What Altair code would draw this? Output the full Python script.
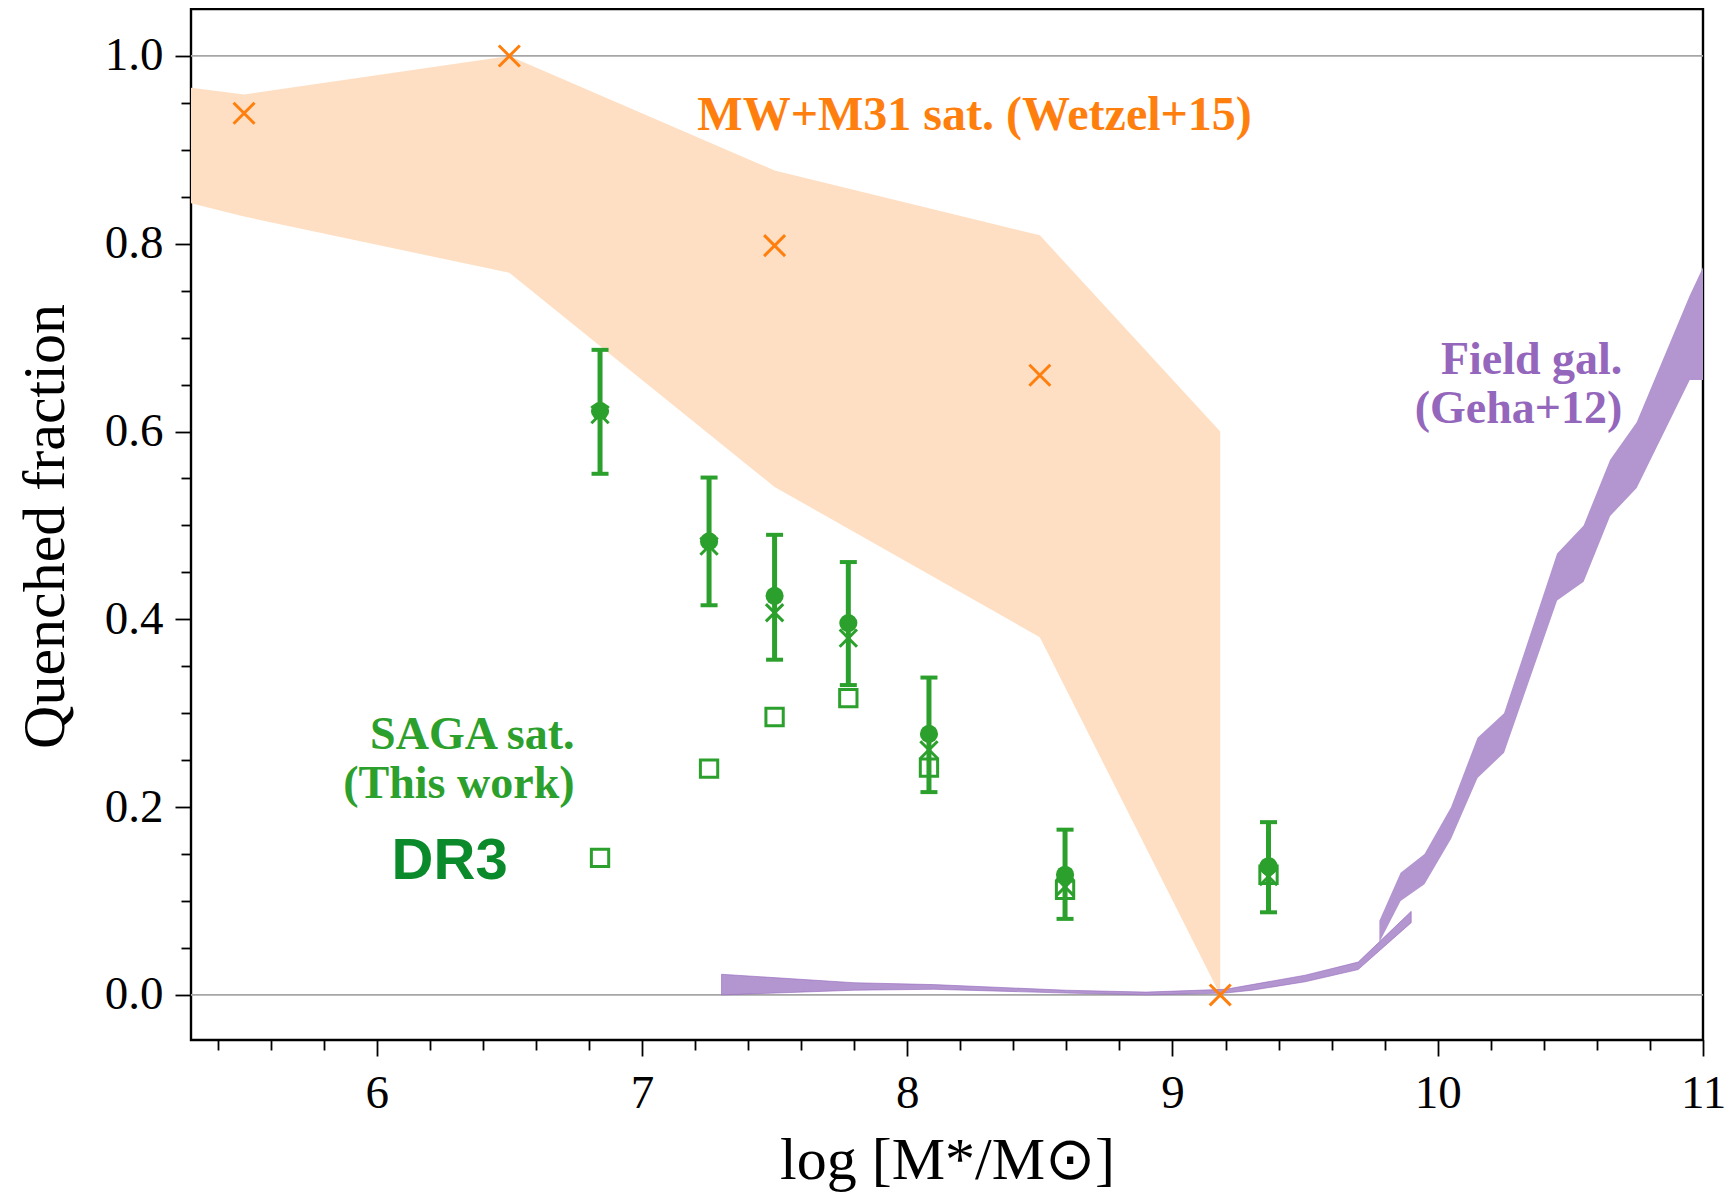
import altair as alt
import pandas as pd

# ---------------- data ----------------
# MW+M31 satellites band (Wetzel+15)
w_x = [5.3, 5.5, 6.5, 7.5, 8.5, 9.18]
w_hi = [0.966, 0.959, 1.0, 0.878, 0.809, 0.60]
w_lo = [0.843, 0.829, 0.769, 0.541, 0.381, 0.0]
# Wetzel+15 points (crosses)
wp_x = [5.5, 6.5, 7.5, 8.5, 9.18]
wp_y = [0.939, 1.0, 0.798, 0.66, 0.0]

# Field galaxies (Geha+12) - flat band
g1_x = [7.3, 7.8, 8.1, 8.6, 8.9, 9.2, 9.3, 9.5, 9.7, 9.9]
g1_hi = [0.022, 0.013, 0.011, 0.005, 0.003, 0.006, 0.011, 0.021, 0.035, 0.089]
g1_lo = [0.0, 0.005, 0.006, 0.002, 0.0, 0.002, 0.005, 0.014, 0.027, 0.077]
# Field galaxies (Geha+12) - steep band
g2_x = [9.78, 9.86, 9.95, 10.05, 10.15, 10.25, 10.45, 10.55, 10.65, 10.75, 10.95, 11.0]
g2_hi = [0.079, 0.130, 0.150, 0.200, 0.274, 0.300, 0.470, 0.500, 0.570, 0.610, 0.745, 0.775]
g2_lo = [0.056, 0.100, 0.118, 0.166, 0.231, 0.258, 0.420, 0.440, 0.510, 0.540, 0.655, 0.655]

# SAGA satellites (this work)
s_x = [6.842, 7.253, 7.50, 7.778, 8.082, 8.595, 9.362]
s_y = [0.622, 0.483, 0.425, 0.396, 0.278, 0.128, 0.137]
s_hi = [0.687, 0.551, 0.490, 0.461, 0.338, 0.176, 0.184]
s_lo = [0.555, 0.415, 0.357, 0.330, 0.216, 0.081, 0.088]
s_xm = [0.618, 0.478, 0.407, 0.380, 0.261, 0.115, 0.126]
s_sq = [0.146, 0.241, 0.296, 0.316, 0.242, 0.112, 0.128]

ref_lines = [0.0, 1.0]

x_ticks = [5.4, 5.6, 5.8, 6.0, 6.2, 6.4, 6.6, 6.8, 7.0, 7.2, 7.4, 7.6, 7.8, 8.0,
           8.2, 8.4, 8.6, 8.8, 9.0, 9.2, 9.4, 9.6, 9.8, 10.0, 10.2, 10.4, 10.6,
           10.8, 11.0]
y_ticks = [0.0, 0.05, 0.1, 0.15, 0.2, 0.25, 0.3, 0.35, 0.4, 0.45, 0.5, 0.55,
           0.6, 0.65, 0.7, 0.75, 0.8, 0.85, 0.9, 0.95, 1.0]

# annotations
lab_wetzel = ["MW+M31 sat. (Wetzel+15)"]
lab_wetzel_x = [8.254]
lab_wetzel_y = [0.936]
lab_geha = ["Field gal.", "(Geha+12)"]
lab_geha_x = [10.696, 10.696]
lab_geha_y = [0.676, 0.624]
lab_saga = ["SAGA sat.", "(This work)"]
lab_saga_x = [6.746, 6.746]
lab_saga_y = [0.277, 0.225]
lab_dr3 = ["DR3"]
lab_dr3_x = [6.275]
lab_dr3_y = [0.142]

# ---------------- colours / fonts ----------------
ORANGE = "#ff7f0e"
ORANGE_FILL = "#ffdfc3"
GREEN = "#2ca02c"
DARKGREEN = "#0a8a2a"
PURPLE = "#9467bd"
PURPLE_FILL = "#b396d0"
SERIF = "Liberation Serif"

xs = alt.Scale(domain=[5.3, 11.0], nice=False, zero=False)
ys = alt.Scale(domain=[-0.048, 1.05], nice=False, zero=False)

x_axis = alt.Axis(
    values=x_ticks,
    labelExpr="abs(datum.value - round(datum.value)) < 0.001 ? format(datum.value, 'd') : ''",
    tickSize={"condition": {"test": "abs(datum.value - round(datum.value)) < 0.001", "value": 16}, "value": 10},
    tickWidth=1.8, tickColor="black", domain=False, grid=False,
    labelFont=SERIF, labelFontSize=47, labelColor="black", labelPadding=14,
    labelOverlap=False, labelFlush=False,
    title="log [M*/M\u2299]", titleFont=SERIF, titleFontSize=60, titleFontWeight="normal",
    titleColor="black", titleX=756, titleY=120, titleBaseline="middle", titleAlign="center",
)
y_axis = alt.Axis(
    values=y_ticks,
    labelExpr="abs(datum.value*5 - round(datum.value*5)) < 0.001 ? format(datum.value, '.1f') : ''",
    tickSize={"condition": {"test": "abs(datum.value*5 - round(datum.value*5)) < 0.001", "value": 16}, "value": 10},
    tickWidth=1.8, tickColor="black", domain=False, grid=False,
    labelFont=SERIF, labelFontSize=47, labelColor="black", labelPadding=12,
    labelOverlap=False, labelFlush=False,
    title="Quenched fraction", titleFont=SERIF, titleFontSize=60, titleFontWeight="normal",
    titleColor="black", titleAngle=270, titleX=-146, titleY=517, titleBaseline="middle",
    titleAlign="center",
)


def X(f):
    return alt.X(f, type="quantitative", scale=xs, axis=x_axis)


def Y(f):
    return alt.Y(f, type="quantitative", scale=ys, axis=y_axis)


df_w = pd.DataFrame({"x": w_x, "hi": w_hi, "lo": w_lo})
df_wp = pd.DataFrame({"x": wp_x, "y": wp_y})
df_g1 = pd.DataFrame({"x": g1_x, "hi": g1_hi, "lo": g1_lo})
df_g2 = pd.DataFrame({"x": g2_x, "hi": g2_hi, "lo": g2_lo})
df_s = pd.DataFrame({"x": s_x, "y": s_y, "hi": s_hi, "lo": s_lo, "xm": s_xm, "sq": s_sq})
df_ref = pd.DataFrame({"y": ref_lines})

band_w = alt.Chart(df_w).mark_area(color=ORANGE_FILL, opacity=1).encode(
    x=X("x"), y=Y("hi"), y2="lo")

refs = alt.Chart(df_ref).mark_rule(color="#a6a6a6", strokeWidth=1.8).encode(y=Y("y"))

band_g1 = alt.Chart(df_g1).mark_area(color=PURPLE_FILL, opacity=1, stroke=PURPLE,
                                     strokeWidth=1, strokeOpacity=0.6).encode(
    x=X("x"), y=Y("hi"), y2="lo")
band_g2 = alt.Chart(df_g2).mark_area(color=PURPLE_FILL, opacity=1).encode(
    x=X("x"), y=Y("hi"), y2="lo")

XPATH = "M-1,-1L1,1M-1,1L1,-1"
w_pts = alt.Chart(df_wp).mark_point(shape=XPATH, filled=False, color=ORANGE,
                                    strokeWidth=3, size=440, opacity=1).encode(
    x=X("x"), y=Y("y"))

err = alt.Chart(df_s).mark_rule(color=GREEN, strokeWidth=5).encode(
    x=X("x"), y=Y("lo"), y2="hi")
cap_hi = alt.Chart(df_s).mark_tick(color=GREEN, orient="horizontal", size=17,
                                   thickness=4, opacity=1).encode(x=X("x"), y=Y("hi"))
cap_lo = alt.Chart(df_s).mark_tick(color=GREEN, orient="horizontal", size=17,
                                   thickness=4, opacity=1).encode(x=X("x"), y=Y("lo"))
sq = alt.Chart(df_s).mark_point(shape="square", filled=False, color=GREEN,
                                strokeWidth=3, size=300, opacity=1).encode(x=X("x"), y=Y("sq"))
xm = alt.Chart(df_s).mark_point(shape=XPATH, filled=False, color=GREEN,
                                strokeWidth=3, size=300, opacity=1).encode(x=X("x"), y=Y("xm"))
dots = alt.Chart(df_s).mark_circle(color=GREEN, size=330, opacity=1).encode(
    x=X("x"), y=Y("y"))


def label(texts, xv, yv, color, align, font=SERIF, size=46, weight="bold"):
    d = pd.DataFrame({"x": xv, "y": yv, "t": texts})
    return alt.Chart(d).mark_text(font=font, fontSize=size, fontWeight=weight,
                                  color=color, align=align, baseline="middle").encode(
        x=X("x"), y=Y("y"), text="t:N")


t_w = label(lab_wetzel, lab_wetzel_x, lab_wetzel_y, ORANGE, "center", size=48)
t_g = label(lab_geha, lab_geha_x, lab_geha_y, PURPLE, "right")
t_s = label(lab_saga, lab_saga_x, lab_saga_y, GREEN, "right")
t_d = label(lab_dr3, lab_dr3_x, lab_dr3_y, DARKGREEN, "center",
            font="Liberation Sans", size=58)

chart = alt.layer(
    band_w, refs, band_g1, band_g2, w_pts, err, cap_hi, cap_lo, sq, xm, dots,
    t_w, t_g, t_s, t_d,
).properties(
    width=1512, height=1031,
    autosize=alt.AutoSizeParams(type="none"),
    padding={"left": 183, "top": 1, "right": 22, "bottom": 157},
    background="white",
).configure_view(stroke="black", strokeWidth=2.4)

chart.save("out.html", embed_options={"renderer": "svg", "actions": False})
